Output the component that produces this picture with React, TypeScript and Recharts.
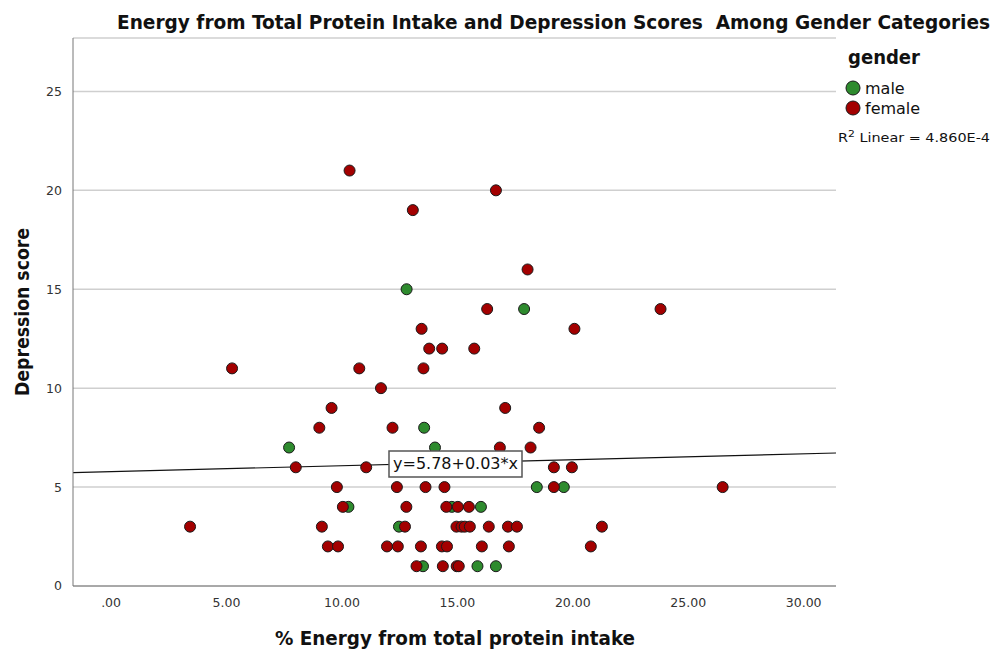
import React from "react";
import {
	ScatterChart,
	Scatter,
	XAxis,
	YAxis,
	CartesianGrid,
	ReferenceLine,
} from "recharts";

// % energy from protein (x) and depression score (y)
const maleX = [12.8, 17.89, 13.56, 7.71, 14.03, 18.44, 19.61, 10.28, 14.76, 16.02, 12.47, 13.51, 15.87, 16.67];
const maleY = [15, 14, 8, 7, 7, 5, 5, 4, 4, 4, 3, 1, 1, 1];

const femaleX = [
	10.33, 16.67, 13.07, 18.04, 16.29, 23.8, 13.45, 20.07, 13.78, 14.34, 15.73,
	5.24, 10.75, 13.53, 11.69, 9.55, 17.07, 9.02, 12.19, 18.54, 16.84, 18.17,
	8.0, 11.05, 19.18, 19.96, 9.78, 12.38, 13.62, 14.44, 19.18, 26.49,
	10.04, 12.79, 14.52, 15.02, 15.5,
	3.42, 9.13, 12.73, 14.96, 15.18, 15.32, 15.54, 16.36, 17.19, 17.58, 21.26,
	9.39, 9.83, 11.95, 12.42, 13.42, 14.33, 14.55, 16.06, 17.23, 20.78,
	13.23, 14.37, 14.97, 15.06,
];
const femaleY = [
	21, 20, 19, 16, 14, 14, 13, 13, 12, 12, 12,
	11, 11, 11, 10, 9, 9, 8, 8, 8, 7, 7,
	6, 6, 6, 6, 5, 5, 5, 5, 5, 5,
	4, 4, 4, 4, 4,
	3, 3, 3, 3, 3, 3, 3, 3, 3, 3, 3,
	2, 2, 2, 2, 2, 2, 2, 2, 2, 2,
	1, 1, 1, 1,
];

const xTicks = [0, 5, 10, 15, 20, 25, 30];
const yTicks = [0, 5, 10, 15, 20, 25];

// fit line y = a + b*x
const fitA = 5.78;
const fitB = 0.03;
const xDomain: [number, number] = [-1.65, 31.4];
const yDomain: [number, number] = [0, 27.7];

const male = maleX.map((x, i) => ({ x, y: maleY[i] }));
const female = femaleX.map((x, i) => ({ x, y: femaleY[i] }));

const RED = "#a30000";
const GREEN = "#2e8b2e";
const font = "'DejaVu Sans', sans-serif";
const boldFont = "'DejaVu Sans Condensed', 'DejaVu Sans', sans-serif";

const dot = (color: string) => (props: any) => (
	<circle cx={props.cx} cy={props.cy} r={5.5} fill={color} stroke="#1a1a1a" strokeWidth={1} />
);

export default function App() {
	return (
		<div style={{ position: "absolute", left: 0, top: 0, width: 995, height: 653, background: "#fff" }}>
			<ScatterChart
				width={995}
				height={653}
				margin={{ top: 38, right: 159, bottom: 37, left: 13 }}
			>
				<CartesianGrid vertical={false} stroke="#cfcfcf" strokeWidth={1.5} />
				<XAxis
					type="number"
					dataKey="x"
					domain={xDomain}
					ticks={xTicks}
					allowDataOverflow
					height={30}
					tickLine={false}
					tickSize={0}
					tickMargin={12}
					stroke="#777"
					tick={{ fill: "#333", fontSize: 12.5, fontFamily: font }}
					tickFormatter={(v: number) => (v === 0 ? ".00" : v.toFixed(2))}
				/>
				<YAxis
					type="number"
					dataKey="y"
					domain={yDomain}
					ticks={yTicks}
					allowDataOverflow
					width={60}
					tickLine={false}
					tickSize={0}
					tickMargin={11}
					stroke="#777"
					tick={{ fill: "#333", fontSize: 12.5, fontFamily: font }}
				/>
				<ReferenceLine
					segment={[
						{ x: xDomain[0], y: fitA + fitB * xDomain[0] },
						{ x: xDomain[1], y: fitA + fitB * xDomain[1] },
					]}
					stroke="#111"
					strokeWidth={1.2}
					ifOverflow="visible"
				/>
				<Scatter name="male" data={male} shape={dot(GREEN)} isAnimationActive={false} />
				<Scatter name="female" data={female} shape={dot(RED)} isAnimationActive={false} />
			</ScatterChart>

			<svg
				width={995}
				height={653}
				style={{ position: "absolute", left: 0, top: 0, pointerEvents: "none" }}
			>
				<text x={117} y={29} fontSize={19} fontWeight="bold" fontFamily={boldFont} fill="#111" textLength={873} lengthAdjust="spacingAndGlyphs">
					{"Energy from Total Protein Intake and Depression Scores\u00a0 Among Gender Categories"}
				</text>
				<text
					x={0}
					y={0}
					transform="translate(29 312) rotate(-90)"
					textAnchor="middle"
					fontSize={19}
					fontWeight="bold"
					fontFamily={boldFont}
					fill="#111"
					textLength={168}
					lengthAdjust="spacingAndGlyphs"
				>
					Depression score
				</text>
				<text x={275} y={645} fontSize={19} fontWeight="bold" fontFamily={boldFont} fill="#111" textLength={360} lengthAdjust="spacingAndGlyphs">
					% Energy from total protein intake
				</text>

				{/* legend */}
				<text x={848} y={64} fontSize={19} fontWeight="bold" fontFamily={boldFont} fill="#111" textLength={72} lengthAdjust="spacingAndGlyphs">
					gender
				</text>
				<circle cx={853} cy={88} r={7} fill={GREEN} stroke="#1a1a1a" strokeWidth={1} />
				<text x={865} y={94} fontSize={16} fontFamily={font} fill="#111">male</text>
				<circle cx={853} cy={108} r={7} fill={RED} stroke="#1a1a1a" strokeWidth={1} />
				<text x={865} y={114} fontSize={16} fontFamily={font} fill="#111">female</text>
				<text x={838} y={142} fontSize={12} fontFamily={font} fill="#111" textLength={152} lengthAdjust="spacingAndGlyphs">
					R<tspan dy={-5} fontSize={9}>2</tspan><tspan dy={5}> Linear = 4.860E-4</tspan>
				</text>

				{/* fit equation box */}
				<rect x={389} y={451} width={133} height={26} fill="#fff" stroke="#555" strokeWidth={1.5} />
				<text x={393} y={469} fontSize={16} fontFamily={font} fill="#111" textLength={125} lengthAdjust="spacingAndGlyphs">
					y=5.78+0.03*x
				</text>
			</svg>
		</div>
	);
}
